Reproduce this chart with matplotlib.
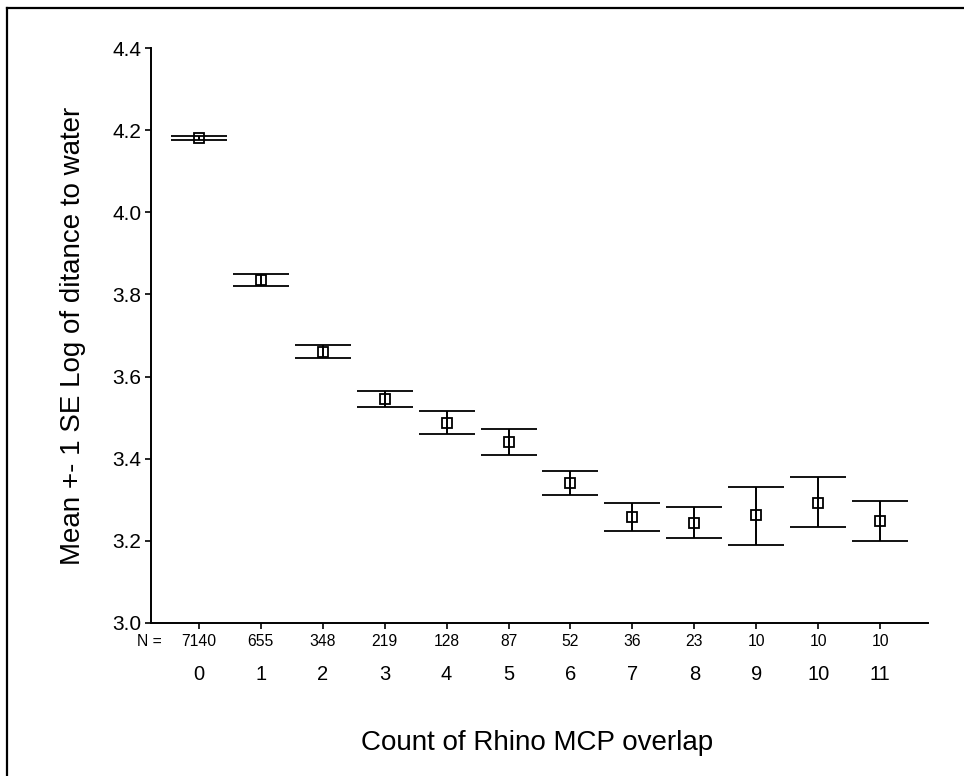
import matplotlib
matplotlib.use('agg')
import matplotlib.pyplot as plt
import matplotlib.transforms as mtransforms
import numpy as np

plt.rcParams['font.family'] = ['Liberation Sans', 'DejaVu Sans']

# overlap count, mean and +-1 SE bounds
counts = [0, 1, 2, 3, 4, 5, 6, 7, 8, 9, 10, 11]
means = [4.181, 3.835, 3.661, 3.546, 3.488, 3.441, 3.341, 3.258, 3.243, 3.262, 3.293, 3.248]
upper = [4.186, 3.849, 3.678, 3.566, 3.517, 3.472, 3.371, 3.293, 3.283, 3.332, 3.355, 3.297]
lower = [4.175, 3.820, 3.645, 3.527, 3.459, 3.410, 3.311, 3.224, 3.208, 3.189, 3.233, 3.199]
n_labels = ['7140', '655', '348', '219', '128', '87', '52', '36', '23', '10', '10', '10']

means = np.array(means)
yerr = np.vstack([means - np.array(lower), np.array(upper) - means])

fig = plt.figure(figsize=(9.64, 7.76), dpi=100)
ax = fig.add_axes([151 / 964, 1 - 623 / 776, (928 - 151) / 964, (623 - 48) / 776])

ax.errorbar(counts, means, yerr=yerr, fmt='s', color='black', mfc='none',
            mec='black', mew=1.3, ms=6.5, elinewidth=1.4, capsize=20.5,
            capthick=1.4)

ax.set_xlim(-0.77, 11.77)
ax.set_ylim(3.0, 4.4)
ax.set_yticks([3.0, 3.2, 3.4, 3.6, 3.8, 4.0, 4.2, 4.4])
ax.set_yticklabels(['3.0', '3.2', '3.4', '3.6', '3.8', '4.0', '4.2', '4.4'])
ax.set_xticks(counts)
ax.set_xticklabels([str(c) for c in counts])

for side in ['top', 'right']:
    ax.spines[side].set_visible(False)
for side in ['left', 'bottom']:
    ax.spines[side].set_linewidth(1.4)

ax.tick_params(axis='y', direction='out', length=4, width=1.2, labelsize=15, pad=3)
ax.tick_params(axis='x', direction='out', length=4, width=1.2, labelsize=14.5, pad=26)

# N row under the axis
trans = mtransforms.blended_transform_factory(ax.transData, ax.transAxes)
n_y = -(642 - 623) / 575
for c, lab in zip(counts, n_labels):
    ax.text(c, n_y, lab, transform=trans, ha='center', va='center',
            fontsize=11.3, clip_on=False)
ax.text(-0.6, n_y, 'N =', transform=trans, ha='right', va='center',
        fontsize=11.3, clip_on=False)

ax.set_ylabel('Mean +- 1 SE Log of ditance to water', fontsize=20)
ax.yaxis.set_label_coords(-(151 - 73) / 777, 0.5)
ax.yaxis.label.set_va('center')
fig.text(537 / 964, 1 - 743 / 776, 'Count of Rhino MCP overlap', fontsize=20,
         ha='center', va='center')

# outer frame (right and bottom fall outside the image)
fig.add_artist(plt.Line2D([7 / 964, 7 / 964], [0, 1 - 8 / 776], color='black',
                          lw=1.6, transform=fig.transFigure))
fig.add_artist(plt.Line2D([7 / 964, 1], [1 - 8 / 776, 1 - 8 / 776], color='black',
                          lw=1.6, transform=fig.transFigure))

fig.savefig('out.png', dpi=100)
